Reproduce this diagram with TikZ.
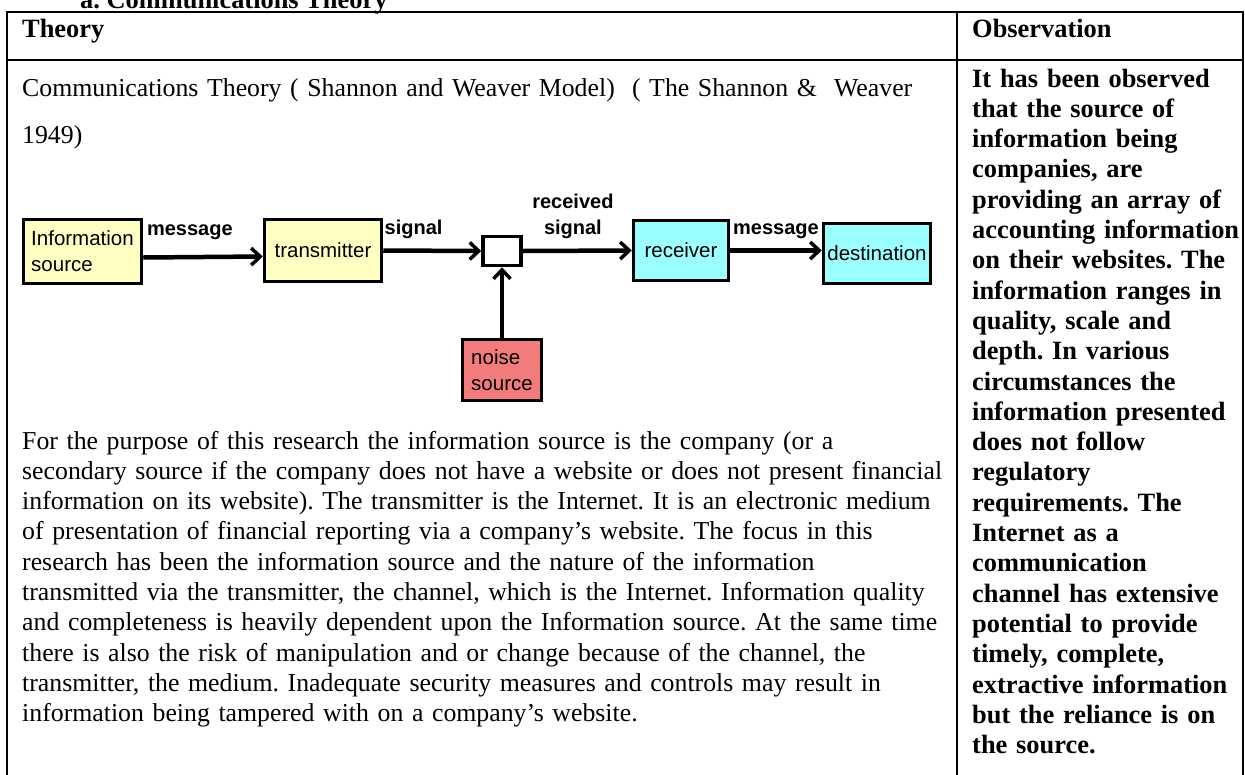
\documentclass[tikz,border=0pt]{standalone}
\usepackage{fontspec}
\setmainfont{Liberation Serif}
\newfontfamily\gifsans{Liberation Sans}
\usetikzlibrary{arrows.meta}
\definecolor{boxyellow}{HTML}{FFFFC4}
\definecolor{boxcyan}{HTML}{9CFFFF}
\definecolor{boxred}{HTML}{F27B7B}
\frenchspacing

\begin{document}
\begin{tikzpicture}[x=1pt, y=-1pt,
    rule/.style={line width=2.8pt},
    blk/.style={draw, line width=3.5pt, align=left, inner sep=0pt, font=\gifsans\fontsize{20.5}{26}\selectfont},
    flow/.style={-{Straight Barb[length=9pt, width=17pt, line width=3.5pt]}, line width=4.5pt},
    lbl/.style={anchor=south, inner sep=0pt, yshift=10pt, align=center, font=\gifsans\bfseries\fontsize{20}{26}\selectfont},
    body/.style={anchor=base west, inner sep=0pt, align=left, font=\fontsize{25.8}{30.3}\selectfont},
    bodybf/.style={body, font=\bfseries\fontsize{26.4}{30.3}\selectfont},
]
\useasboundingbox (0,0) rectangle (1245,774);
\clip (0,0) rectangle (1245,774);

% table frame
\draw[rule] (7,790) -- (7,12) -- (1243,12) -- (1243,790);
\draw[rule] (7,60) -- (1243,60);
\draw[rule] (957,12) -- (957,790);

% headings
\node[bodybf] (title) at (80,8) {a. Communications Theory};
\node[bodybf] (thhead) at (22,37) {Theory};
\node[bodybf] (obshead) at (972,37) {Observation};

\node[body, font=\fontsize{25.8}{47}\selectfont, text width=950pt] (model) at (22,96)
  {Communications Theory ( Shannon and Weaver Model)\ \ ( The Shannon \&\ \ Weaver\\
   1949)};

% shannon-weaver chain
\node[blk, fill=boxyellow, minimum width=118pt, minimum height=64pt] (src) at (82.5,251.5) {Information\\source};
\node[blk, fill=boxyellow, minimum width=117pt, minimum height=62pt] (trans) at (323,250.5) {transmitter};
\node[blk, fill=white, minimum width=38pt, minimum height=29pt] (tiny) at (502,251) {};
\node[blk, fill=boxcyan, minimum width=95pt, minimum height=60pt] (recv) at (681,250.5) {receiver};
\node[blk, fill=boxcyan, minimum width=107pt, minimum height=60pt] (dest) at (877,253.5) {destination};
\node[blk, fill=boxred, minimum width=79pt, minimum height=61pt] (noise) at (502,370) {noise\\source};

\draw[flow] ([yshift=-6pt]src.east) -- node[lbl, pos=0.39, yshift=5pt] {message} ([yshift=-6pt]trans.west);
\draw[flow] (trans.east) -- node[lbl, pos=0.31] {signal} (tiny.west);
\draw[flow] (tiny.east) -- node[lbl, pos=0.46] {received\\signal} (recv.west);
\draw[flow] (recv.east) -- node[lbl, pos=0.5] {message} (recv.east -| dest.west);
\draw[flow] (noise.north) -- (tiny.south);

% left cell text
\node[body, text width=1000pt] (theorytxt) at (22,449)
  {For the purpose of this research the information source is the company (or a\\
   secondary source if the company does not have a website or does not present financial\\
   information on its website). The transmitter is the Internet. It is an electronic medium\\
   of presentation of financial reporting via a company’s website. The focus in this\\
   research has been the information source and the nature of the information\\
   transmitted via the transmitter, the channel, which is the Internet. Information quality\\
   and completeness is heavily dependent upon the Information source. At the same time\\
   there is also the risk of manipulation and or change because of the channel, the\\
   transmitter, the medium. Inadequate security measures and controls may result in\\
   information being tampered with on a company’s website.};

% right cell text
\node[bodybf, text width=300pt] (obstxt) at (972,87)
  {It has been observed\\
   that the source of\\
   information being\\
   companies, are\\
   providing an array of\\
   accounting information\\
   on their websites. The\\
   information ranges in\\
   quality, scale and\\
   depth. In various\\
   circumstances the\\
   information presented\\
   does not follow\\
   regulatory\\
   requirements. The\\
   Internet as a\\
   communication\\
   channel has extensive\\
   potential to provide\\
   timely, complete,\\
   extractive information\\
   but the reliance is on\\
   the source.};
\end{tikzpicture}
\end{document}
